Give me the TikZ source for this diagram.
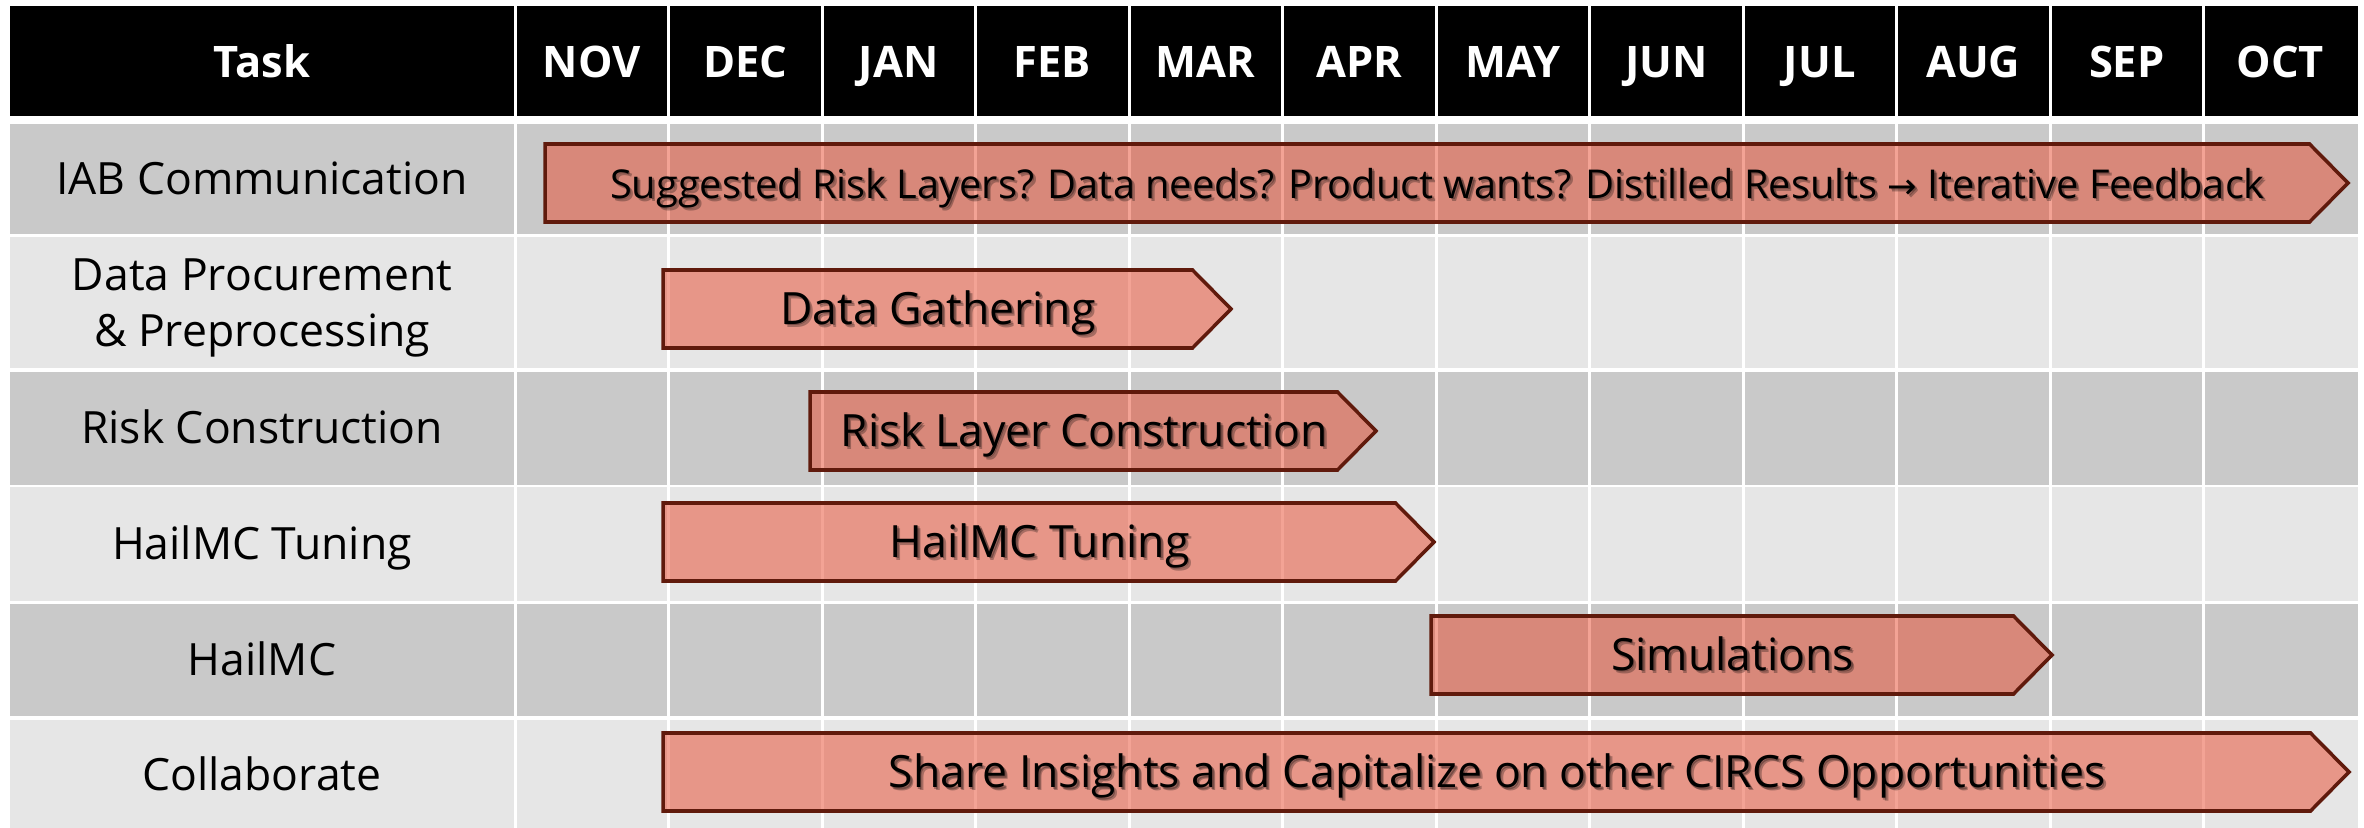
\documentclass[tikz,border=0pt]{standalone}
\usepackage{fontspec}
\setmainfont{Open Sans}
\newfontfamily\symfont{DejaVu Sans}
\definecolor{rowdark}{RGB}{201,201,201}
\definecolor{rowlight}{RGB}{230,230,230}
\definecolor{barfill}{RGB}{232,72,44}
\definecolor{barline}{RGB}{96,26,12}

% #1 name, #2 left x, #3 tip x, #4 top y, #5 extra text style, #6 label
\newcommand{\ganttbar}[6]{%
  \draw[bar] (#2,#4) -- ({#3-38.5},#4) -- (#3,{#4+39}) -- ({#3-38.5},{#4+78})
    -- (#2,{#4+78}) -- cycle;
  \node[bartext, #5, opacity=0.28] at ({(#2+#3)/2-9+3},{#4+39+15.5+3}) {#6};
  \node[bartext, #5, opacity=0.28] at ({(#2+#3)/2-9+1.5},{#4+39+15.5+1.5}) {#6};
  \node[bartext, #5] (#1) at ({(#2+#3)/2-9},{#4+39+15.5}) {#6};
}

\begin{document}
\begin{tikzpicture}[x=0.01cm, y=-0.01cm,
  lbl/.style={font=\fontsize{12.65}{15.9}\selectfont, inner sep=0pt, anchor=base, align=center},
  hdr/.style={lbl, font=\fontsize{12.35}{15.9}\selectfont\bfseries, text=white},
  bartext/.style={lbl, text=black},
  small/.style={font=\fontsize{11.3}{14}\selectfont},
  bar/.style={draw=barline, line width=1pt, fill=barfill, fill opacity=0.5, line join=miter}]

\useasboundingbox (0,0) rectangle (2364,828);
\fill[white] (0,0) rectangle (2364,828);

% header band and row bands
\fill[black] (10,6) rectangle (2358,116);
\fill[rowdark]  (10,124)   rectangle (2358,234.5);
\fill[rowlight] (10,237.5) rectangle (2358,368.5);
\fill[rowdark]  (10,372)   rectangle (2358,485);
\fill[rowlight] (10,487.5) rectangle (2358,601);
\fill[rowdark]  (10,604)   rectangle (2358,716);
\fill[rowlight] (10,719.5) rectangle (2358,828);

% white column separators
\foreach \k in {0,...,11}
  \fill[white] ({515+153.5*\k-1.5},0) rectangle ({515+153.5*\k+1.5},828);

% header labels
\node[hdr] (task) at (262,78) {Task};
\foreach \m [count=\i from 0] in {NOV,DEC,JAN,FEB,MAR,APR,MAY,JUN,JUL,AUG,SEP,OCT}
  \node[hdr] (m\i) at ({591.75+153.5*\i},78) {\m};

% task names
\node[lbl] (t1) at (262,194.5) {IAB Communication};
\node[lbl] (t2) at (262,346.8) {Data Procurement\\\& Preprocessing};
\node[lbl] (t3) at (262,444) {Risk Construction};
\node[lbl] (t4) at (262,559.5) {HailMC Tuning};
\node[lbl] (t5) at (262,675.5) {HailMC};
\node[lbl] (t6) at (262,790) {Collaborate};

% schedule bars
\ganttbar{b1}{545}{2348}{144}{small}{Suggested Risk Layers? Data needs? Product wants? Distilled Results {\symfont\fontsize{10}{12}\selectfont →} Iterative Feedback}
\ganttbar{b2}{663}{1231}{270}{}{Data Gathering}
\ganttbar{b3}{810}{1376}{392}{}{Risk Layer Construction}
\ganttbar{b4}{663}{1434}{503}{}{HailMC Tuning}
\ganttbar{b5}{1431}{2052}{616}{}{Simulations}
\ganttbar{b6}{663}{2349}{733}{}{Share Insights and Capitalize on other CIRCS Opportunities}

\end{tikzpicture}
\end{document}
